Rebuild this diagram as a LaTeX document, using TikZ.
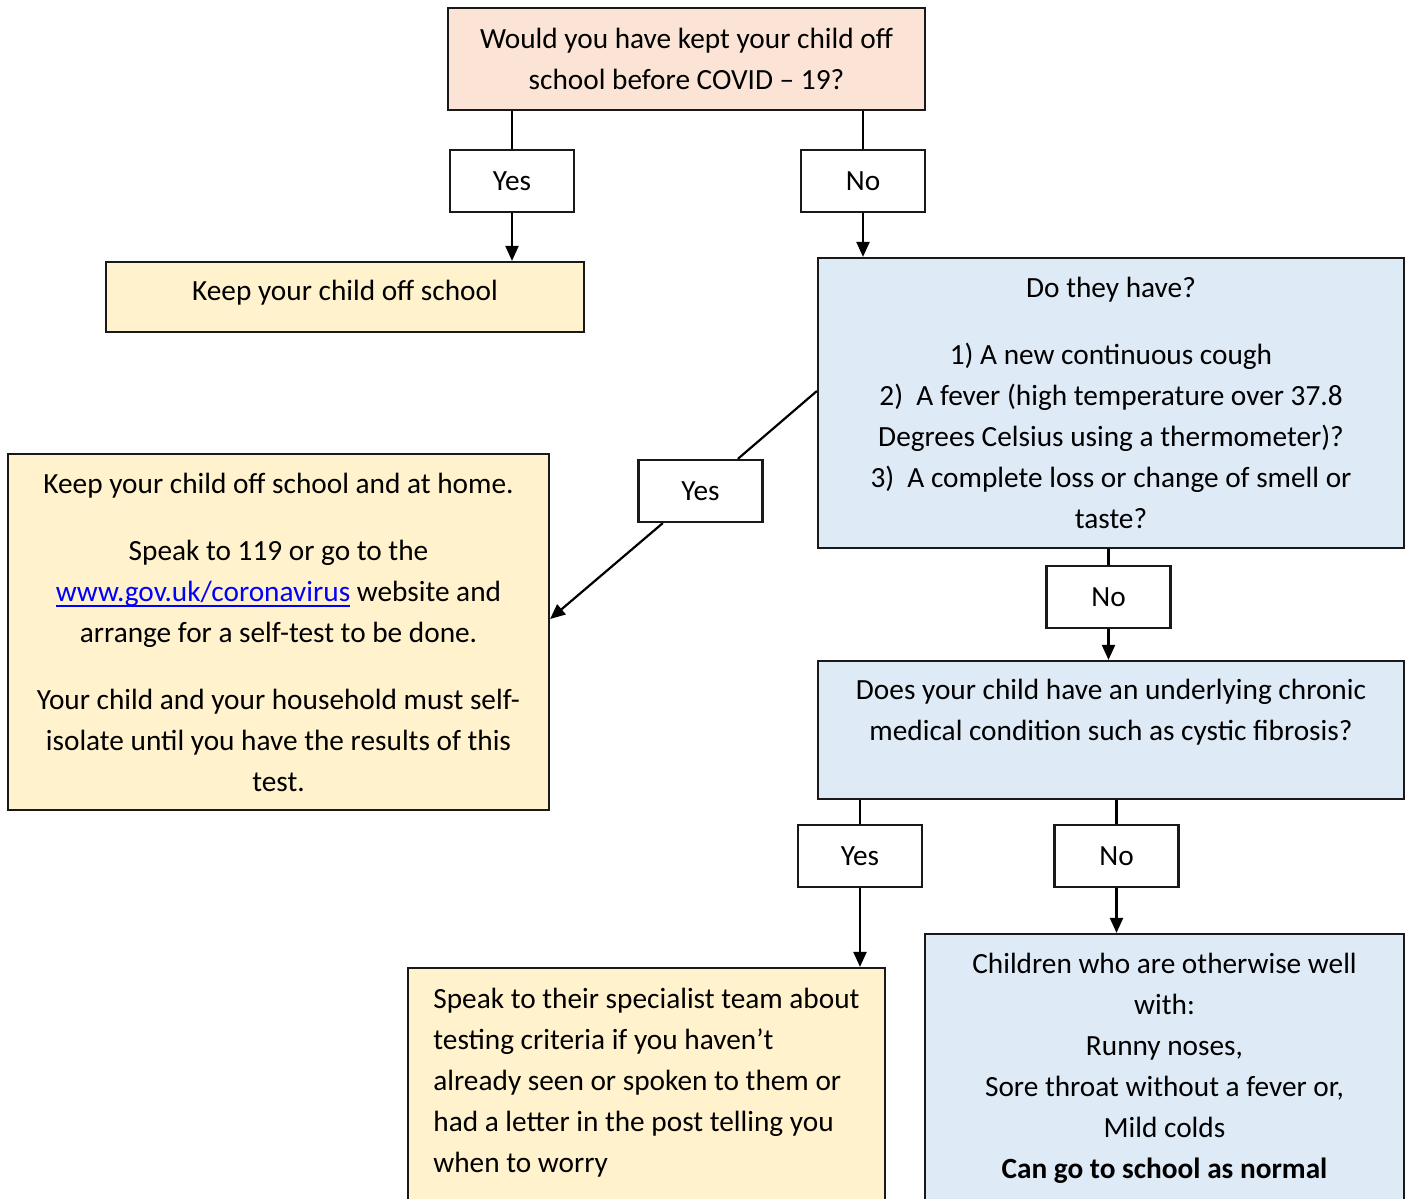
\documentclass[tikz,border=0pt]{standalone}
\usepackage{fontspec}
\setmainfont{Carlito}
\usepackage{tikz}
\usetikzlibrary{arrows.meta}

\definecolor{peach}{HTML}{FBE4D5}
\definecolor{cream}{HTML}{FFF2CC}
\definecolor{paleblue}{HTML}{DEEAF6}
\definecolor{linkblue}{HTML}{0000FF}

\newcommand{\weblink}[1]{{\color{linkblue}\sbox0{#1}\rlap{\rule[-6pt]{\wd0}{1.8pt}}\usebox0}}

\begin{document}
\begin{tikzpicture}[x=1pt, y=-1pt,
  font=\fontsize{29.3}{41}\selectfont,
  box/.style={draw=black!90, line width=2.2pt, inner sep=0pt, align=center},
  answer/.style={box, fill=white, minimum width=124pt, minimum height=62pt},
  link/.style={line width=2.2pt},
  flow/.style={link, -{Triangle[length=15pt,width=13pt]}}]

\useasboundingbox (0,0) rectangle (1409,1199);


\node[box, fill=peach, minimum width=477pt, minimum height=102pt] (before) at (686.5,59) {Would you have kept your child off\\ school before COVID – 19?};
\node[answer] (yes1) at (512,181) {Yes};
\node[answer] (no1) at (863,181) {No};
\node[box, fill=cream, minimum width=478pt, minimum height=70pt] (offschool) at (345,297) {\raisebox{4pt}[\height][\depth]{Keep your child off school}};


\node[box, fill=paleblue, minimum width=586pt, minimum height=290pt] (symptoms) at (1111,403) {Do they have?\\[26pt] 1) A new continuous cough\\ 2)~~A fever (high temperature over 37.8\\ Degrees Celsius using a thermometer)?\\ 3)~~A complete loss or change of smell or\\ taste?};
\node[answer] (yes2) at (700.5,491) {Yes};
\node[box, fill=cream, minimum width=541pt, minimum height=356pt] (athome) at (278.5,632) {Keep your child off school and at home.\\[26pt] Speak to 119 or go to the\\ \weblink{www.gov.uk/coronavirus} website and\\ arrange for a self-test to be done.\\[26pt] Your child and your household must self-\\ isolate until you have the results of this\\ test.};


\node[answer] (no2) at (1108.5,597) {No};
\node[box, fill=paleblue, minimum width=586pt, minimum height=138pt] (chronic) at (1111,730) {Does your child have an underlying chronic\\ medical condition such as cystic fibrosis?\\ \mbox{}};
\node[answer] (yes3) at (860,856) {Yes};
\node[answer] (no3) at (1116.5,856) {No};


\node[box, fill=cream, minimum width=477pt, minimum height=266pt, align=left] (specialist) at (646.5,1101) {Speak to their specialist team about\\ testing criteria if you haven’t\\ already seen or spoken to them or\\ had a letter in the post telling you\\ when to worry\\ \mbox{}};
\node[box, fill=paleblue, minimum width=479pt, minimum height=305pt] (normal) at (1164.5,1086.5) {Children who are otherwise well\\ with:\\ Runny noses,\\ Sore throat without a fever or,\\ Mild colds\\ \textbf{Can go to school as normal}\\ \mbox{}};


\draw[link] (before.south -| yes1) -- (yes1.north);
\draw[flow] (yes1.south) -- (yes1.south |- offschool.north);
\draw[link] (before.south -| no1) -- (no1.north);
\draw[flow] (no1.south) -- (no1.south |- symptoms.north);


\draw[link] ([yshift=12pt]symptoms.west) -- (yes2);
\draw[flow] (yes2) -- ([yshift=13pt]athome.east);


\draw[link] (symptoms.south -| no2) -- (no2.north);
\draw[flow] (no2.south) -- (no2.south |- chronic.north);
\draw[link] (chronic.south -| yes3) -- (yes3.north);
\draw[flow] (yes3.south) -- (yes3.south |- specialist.north);
\draw[link] (chronic.south -| no3) -- (no3.north);
\draw[flow] (no3.south) -- (no3.south |- normal.north);

\end{tikzpicture}
\end{document}
